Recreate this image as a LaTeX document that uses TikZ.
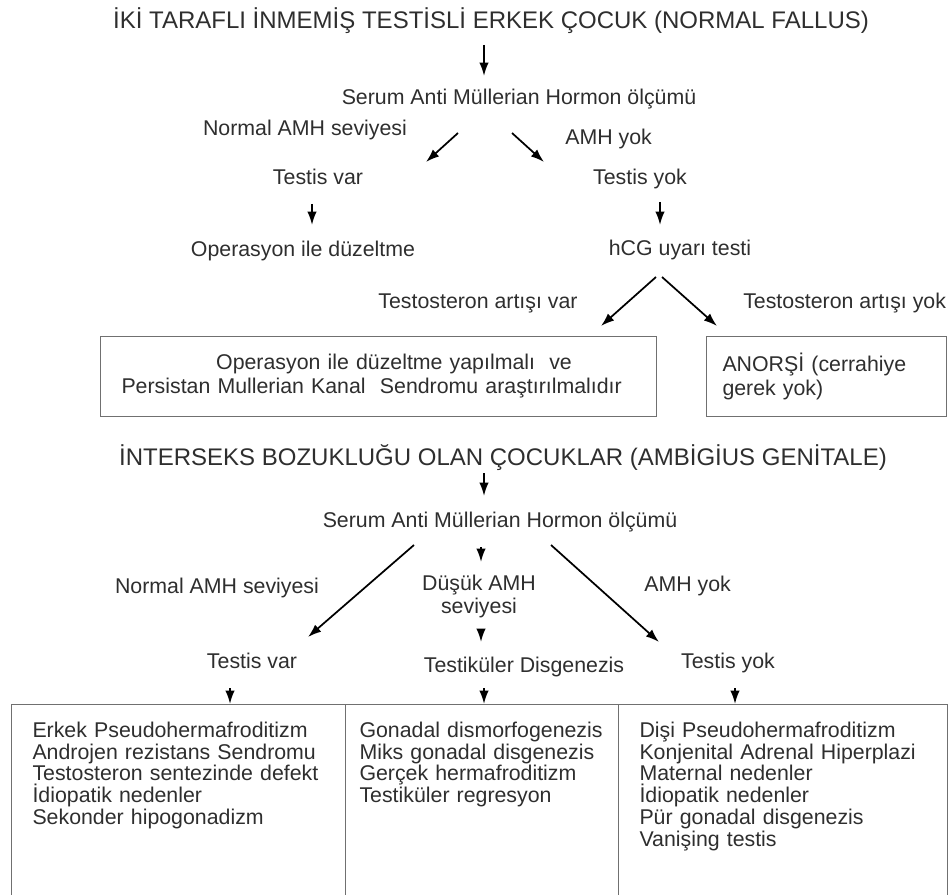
\documentclass[tikz,border=0pt]{standalone}
\usepackage{fontspec}
\setmainfont{Liberation Sans}
\usetikzlibrary{arrows.meta}
\definecolor{metin}{HTML}{2E2E2E}
\definecolor{cerceve}{HTML}{707070}

\begin{document}
\begin{tikzpicture}[x=0.75pt,y=-0.75pt,
  baslik/.style={font=\fontsize{18}{22}\selectfont,text=metin,inner sep=0pt,anchor=base},
  yazi/.style={font=\fontsize{16}{18}\selectfont,text=metin,inner sep=0pt,anchor=base},
  kutu/.style={draw=cerceve,line width=0.75pt,anchor=north west,align=left,font=\fontsize{16}{18}\selectfont,text=metin,minimum height=60pt,inner ysep=0pt},
  liste/.style={draw=cerceve,line width=0.75pt,anchor=north west,align=left,font=\fontsize{16}{16.3}\selectfont,text=metin,inner ysep=13pt,text height=11.7pt,text depth=110pt}
]

\tikzstyle{ok}=[-{Latex[length=10pt,width=7pt]},line width=1.3pt]

\useasboundingbox (0,0) rectangle (950,895);
\clip (0,0) rectangle (950,895);

\node[baslik] (baslik1) at (491,29) {İKİ TARAFLI İNMEMİŞ TESTİSLİ ERKEK ÇOCUK (NORMAL FALLUS)};
\node[yazi] (serum1) at (519,105) {Serum Anti Müllerian Hormon ölçümü};
\node[yazi] (normal1) at (305,136) {Normal AMH seviyesi};
\node[yazi,anchor=base west] (yok1) at (565,145) {AMH yok};
\node[yazi] (var1) at (318,185) {Testis var};
\node[yazi] (testisyok1) at (640,185) {Testis yok};
\node[yazi] (duzelt1) at (303,257) {Operasyon ile düzeltme};
\node[yazi] (hcg1) at (680,255) {hCG uyarı testi};
\node[yazi] (artisvar) at (478,308) {Testosteron artışı var};
\node[yazi,anchor=base west] (artisyok) at (743,308) {Testosteron artışı yok};

\node[kutu,inner xsep=15.75pt,text width=385.5pt] (sonuc1) at (100,336)
  {\hspace*{71pt}Operasyon ile düzeltme yapılmalı~ ve\\Persistan Mullerian Kanal~ Sendromu araştırılmalıdır};
\node[kutu,inner xsep=12pt,text width=156pt] (sonuc2) at (706,336)
  {ANORŞİ (cerrahiye\\gerek yok)};

\node[baslik] (baslik2) at (503,465) {İNTERSEKS BOZUKLUĞU OLAN ÇOCUKLAR (AMBİGİUS GENİTALE)};
\node[yazi] (serum2) at (500,527) {Serum Anti Müllerian Hormon ölçümü};
\node[yazi] (normal2) at (217,593) {Normal AMH seviyesi};
\node[yazi,anchor=north,align=center,font=\fontsize{16}{17.25}\selectfont] (dusuk2) at (479,575) {Düşük AMH\\seviyesi};
\node[yazi,anchor=base west] (yok2) at (644,591) {AMH yok};
\node[yazi] (var2) at (252,668) {Testis var};
\node[yazi] (disgen2) at (524,672) {Testiküler Disgenezis};
\node[yazi] (testisyok2) at (728,668) {Testis yok};

\node[liste,inner xsep=15.75pt,text width=219pt] (grup1) at (11,704)
  {Erkek Pseudohermafroditizm\\Androjen rezistans Sendromu\\Testosteron sentezinde defekt\\İdiopatik nedenler\\Sekonder hipogonadizm};
\node[liste,inner xsep=10.5pt,text width=183.75pt] (grup2) at (345,704)
  {Gonadal dismorfogenezis\\Miks gonadal disgenezis\\Gerçek hermafroditizm\\Testiküler regresyon};
\node[liste,inner xsep=15.75pt,text width=215.25pt] (grup3) at (618,704)
  {Dişi Pseudohermafroditizm\\Konjenital Adrenal Hiperplazi\\Maternal nedenler\\İdiopatik nedenler\\Pür gonadal disgenezis\\Vanişing testis};

\coordinate (k1a) at (484,45);  \coordinate (k1b) at (484,76);
\coordinate (k2a) at (458,133); \coordinate (k2b) at (426,162);
\coordinate (k3a) at (512,133); \coordinate (k3b) at (544,162);
\coordinate (k4a) at (312,204); \coordinate (k4b) at (312,225);
\coordinate (k5a) at (660,202); \coordinate (k5b) at (660,225);
\coordinate (k6a) at (656,277); \coordinate (k6b) at (601,326);
\coordinate (k7a) at (662,277); \coordinate (k7b) at (717,326);
\coordinate (k8a) at (484,473); \coordinate (k8b) at (484,496);
\coordinate (k9a) at (414,545); \coordinate (k9b) at (308,637);
\coordinate (k10a) at (481,547); \coordinate (k10b) at (481,562);
\coordinate (k11a) at (551,545); \coordinate (k11b) at (659,642);
\coordinate (k12a) at (481,629); \coordinate (k12b) at (481,642);
\coordinate (k13a) at (230,688); \coordinate (k13b) at (230,704);
\coordinate (k14a) at (484,688); \coordinate (k14b) at (484,704);
\coordinate (k15a) at (735,688); \coordinate (k15b) at (735,704);

\draw[ok] (k1a) -- (k1b);
\draw[ok] (k2a) -- (k2b);
\draw[ok] (k3a) -- (k3b);
\draw[ok] (k4a) -- (k4b);
\draw[ok] (k5a) -- (k5b);
\draw[ok] (k6a) -- (k6b);
\draw[ok] (k7a) -- (k7b);
\draw[ok] (k8a) -- (k8b);
\draw[ok] (k9a) -- (k9b);
\draw[ok] (k10a) -- (k10b);
\draw[ok] (k11a) -- (k11b);
\draw[ok] (k12a) -- (k12b);
\draw[ok] (k13a) -- (k13b);
\draw[ok] (k14a) -- (k14b);
\draw[ok] (k15a) -- (k15b);

\end{tikzpicture}
\end{document}
